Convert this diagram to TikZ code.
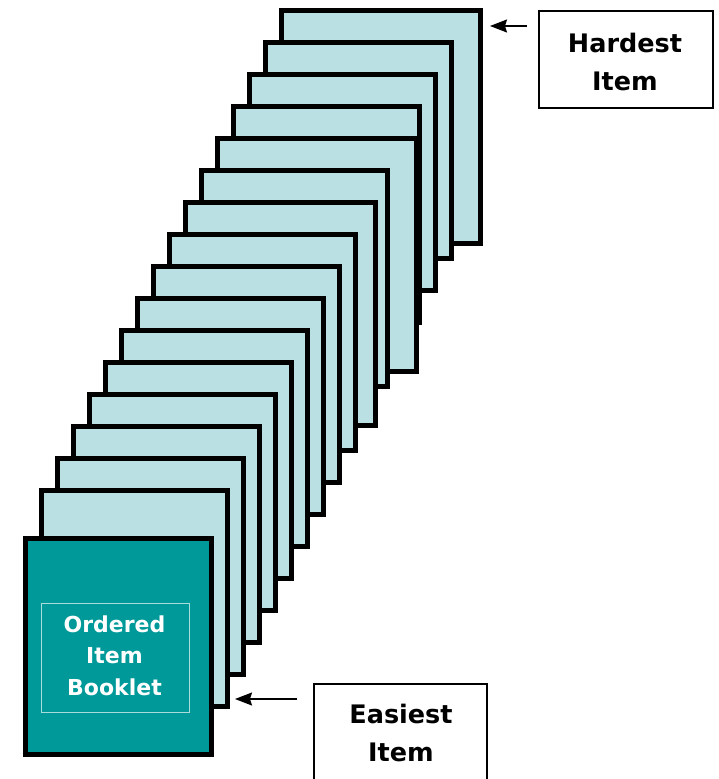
\documentclass[tikz,border=0pt]{standalone}
\usepackage{fontspec}
\setmainfont{DejaVu Sans}
\usetikzlibrary{arrows.meta}
\definecolor{pagefill}{RGB}{187,224,227}
\definecolor{teal}{RGB}{0,153,153}
\definecolor{paleline}{RGB}{170,220,220}
\tikzset{
  pagebox/.style={draw=black, line width=5pt, fill=pagefill, inner sep=0pt, outer sep=0pt,
    minimum width=186pt, minimum height=216pt},
  bigpage/.style={minimum width=199pt, minimum height=233pt},
  frontbox/.style={draw=black, line width=5pt, fill=teal, inner sep=0pt, outer sep=0pt,
    minimum width=186pt, minimum height=216pt},
  labbox/.style={draw=black, line width=2pt, inner sep=0pt},
  labtext/.style={font=\fontsize{25.5}{38}\selectfont\bfseries, inner sep=0pt, anchor=base},
  booktext/.style={font=\fontsize{22}{32}\selectfont\bfseries, text=white, inner sep=0pt, anchor=base},
  arr/.style={line width=1.5pt, -{Stealth[length=17pt, width=13pt, inset=2pt]}}
}
\begin{document}
\begin{tikzpicture}[x=1pt, y=-1pt]
\path[use as bounding box] (0,0) rectangle (718,779);
\clip (0,0) rectangle (718,779);
% stacked pages, back to front
\node[pagebox, bigpage] (p15) at (381,127) {};
\node[pagebox] (p14) at (358.5,150.5) {};
\node[pagebox] (p13) at (342.5,182.5) {};
\node[pagebox] (p12) at (326.5,214.5) {};
\node[pagebox, bigpage] (p11) at (317,255) {};
\node[pagebox] (p10) at (294.5,278.5) {};
\node[pagebox, minimum width=190pt, minimum height=223pt] (p9) at (280.5,314) {};
\node[pagebox] (p8) at (262.5,342.5) {};
\node[pagebox] (p7) at (246.5,374.5) {};
\node[pagebox] (p6) at (230.5,406.5) {};
\node[pagebox] (p5) at (214.5,438.5) {};
\node[pagebox] (p4) at (198.5,470.5) {};
\node[pagebox] (p3) at (182.5,502.5) {};
\node[pagebox] (p2) at (166.5,534.5) {};
\node[pagebox] (p1) at (150.5,566.5) {};
\node[pagebox] (p0) at (134.5,598.5) {};
% front cover
\node[frontbox] (front) at (118.5,646.5) {};
\node[draw=paleline, line width=1pt, inner sep=0pt, minimum width=148pt, minimum height=109pt] (inner) at (115,657.5) {};
\node[booktext] (b1) at (114.5,632) {Ordered};
\node[booktext] (b2) at (114.5,663) {Item};
\node[booktext] (b3) at (114.5,695) {Booklet};
% hardest label
\node[labbox, minimum width=174pt, minimum height=97pt] (hbox) at (626,59.5) {};
\node[labtext] (h1) at (625,52) {Hardest};
\node[labtext] (h2) at (625,90) {Item};
\coordinate (hA) at (527,26);
\coordinate (hB) at (490,26);
\draw[arr] (hA) -- (hB);
% easiest label
\node[labbox, minimum width=173pt, minimum height=140pt, anchor=north] (ebox) at (400.5,683) {};
\node[labtext] (e1) at (401,723) {Easiest};
\node[labtext] (e2) at (401,761) {Item};
\coordinate (eA) at (297,699);
\coordinate (eB) at (235,699);
\draw[arr] (eA) -- (eB);
\end{tikzpicture}
\end{document}
